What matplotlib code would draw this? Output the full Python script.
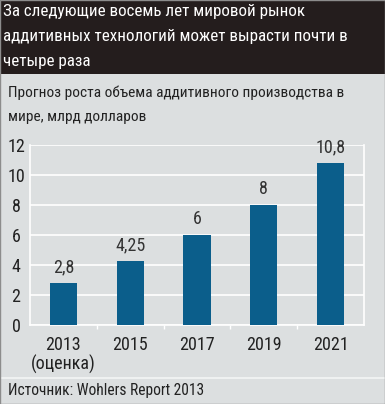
import matplotlib.pyplot as plt
from matplotlib.patches import Rectangle
from matplotlib import font_manager

years = ['2013\n(оценка)', '2015', '2017', '2019', '2021']
values = [2.8, 4.25, 6, 8, 10.8]
value_labels = ['2,8', '4,25', '6', '8', '10,8']
yticks = [0, 2, 4, 6, 8, 10, 12]

title = 'За следующие восемь лет мировой рынок\nаддитивных технологий может вырасти почти в\nчетыре раза'
subtitle = 'Прогноз роста объема аддитивного производства в\nмире, млрд долларов'
source = 'Источник: Wohlers Report 2013'

BG = '#dcdfe0'
BAR = '#0b5e8b'
TXT = '#222222'


def pick_font():
    names = {f.name for f in font_manager.fontManager.ttflist}
    for n in ['Liberation Sans Narrow', 'Roboto Condensed', 'DejaVu Sans Condensed',
              'Arial Narrow', 'Noto Sans Condensed', 'Open Sans Condensed', 'Roboto']:
        if n in names:
            return n
    return 'DejaVu Sans'


def fit(t, renderer, target_w, target_h=None):
    # match the widest line to the reference width, then spread the lines to its height
    w = t.get_window_extent(renderer).width
    t.set_fontsize(t.get_fontsize() * target_w / w)
    if target_h is None:
        return
    t.set_linespacing(1.0)
    h1 = t.get_window_extent(renderer).height
    t.set_linespacing(2.0)
    h2 = t.get_window_extent(renderer).height
    t.set_linespacing(1.0 + (target_h - h1) / (h2 - h1))


def main():
    font = pick_font()
    plt.rcParams['font.family'] = [font, 'DejaVu Sans']
    fig = plt.figure(figsize=(3.85, 4.04), dpi=100)
    fig.patch.set_facecolor(BG)
    r = fig.canvas.get_renderer()

    fig.patches.append(Rectangle((0, 1 - 74 / 404), 1, 74 / 404, transform=fig.transFigure,
                                 facecolor='#241d1d', edgecolor='none', zorder=0))
    t1 = fig.text(3 / 385, 1 - 4 / 404, title, color='white', fontsize=14, va='top',
                  ha='left')
    fit(t1, r, 344, 65)
    t2 = fig.text(8 / 385, 1 - 85 / 404, subtitle, color=TXT, fontsize=13, va='top',
                  ha='left')
    fit(t2, r, 335, 39)

    ax = fig.add_axes([30 / 385, 1 - 325 / 404, 334 / 385, 180 / 404])
    ax.set_facecolor(BG)
    x = range(len(values))
    ax.bar(x, values, width=0.41, color=BAR, zorder=3)
    for i, v in enumerate(values):
        ax.text(i, v + 0.45, value_labels[i], ha='center', va='bottom', fontsize=13,
                color='#333333')

    ax.set_xlim(-0.5, len(values) - 0.5)
    ax.set_ylim(0, 12)
    ax.set_yticks(yticks)
    ax.set_yticklabels([str(t) for t in yticks], fontsize=13, color=TXT)
    for lab in ax.get_yticklabels():
        lab.set_horizontalalignment('center')
    ax.tick_params(axis='y', length=0, pad=10)
    ax.set_xticks(list(x))
    ax.set_xticklabels(years, fontsize=13, color=TXT, linespacing=1.05)
    ax.tick_params(axis='x', length=0, pad=8)
    ax.set_xticks([i + 0.5 for i in range(len(values) - 1)], minor=True)
    ax.tick_params(axis='x', which='minor', length=3, color='white', width=1)
    ax.yaxis.grid(True, color='white', linewidth=1.2, zorder=1)
    for side in ['left', 'right', 'bottom']:
        ax.spines[side].set_color('white')
        ax.spines[side].set_linewidth(1.2)
    ax.spines['top'].set_visible(False)

    fig.add_artist(plt.Line2D([0, 1], [1 - 378 / 404, 1 - 378 / 404], color='#f4f5f5',
                              linewidth=1.2, transform=fig.transFigure))
    t3 = fig.text(8 / 385, 1 - 391 / 404, source, color=TXT, fontsize=12, va='center',
                  ha='left')
    fit(t3, r, 196)

    fig.patches.append(Rectangle((0, 0), 1, 1, transform=fig.transFigure, facecolor='none',
                                 edgecolor='#8c8c8c', linewidth=1, zorder=10))
    fig.savefig('out.png', dpi=100, facecolor=BG)


if __name__ == '__main__':
    main()
